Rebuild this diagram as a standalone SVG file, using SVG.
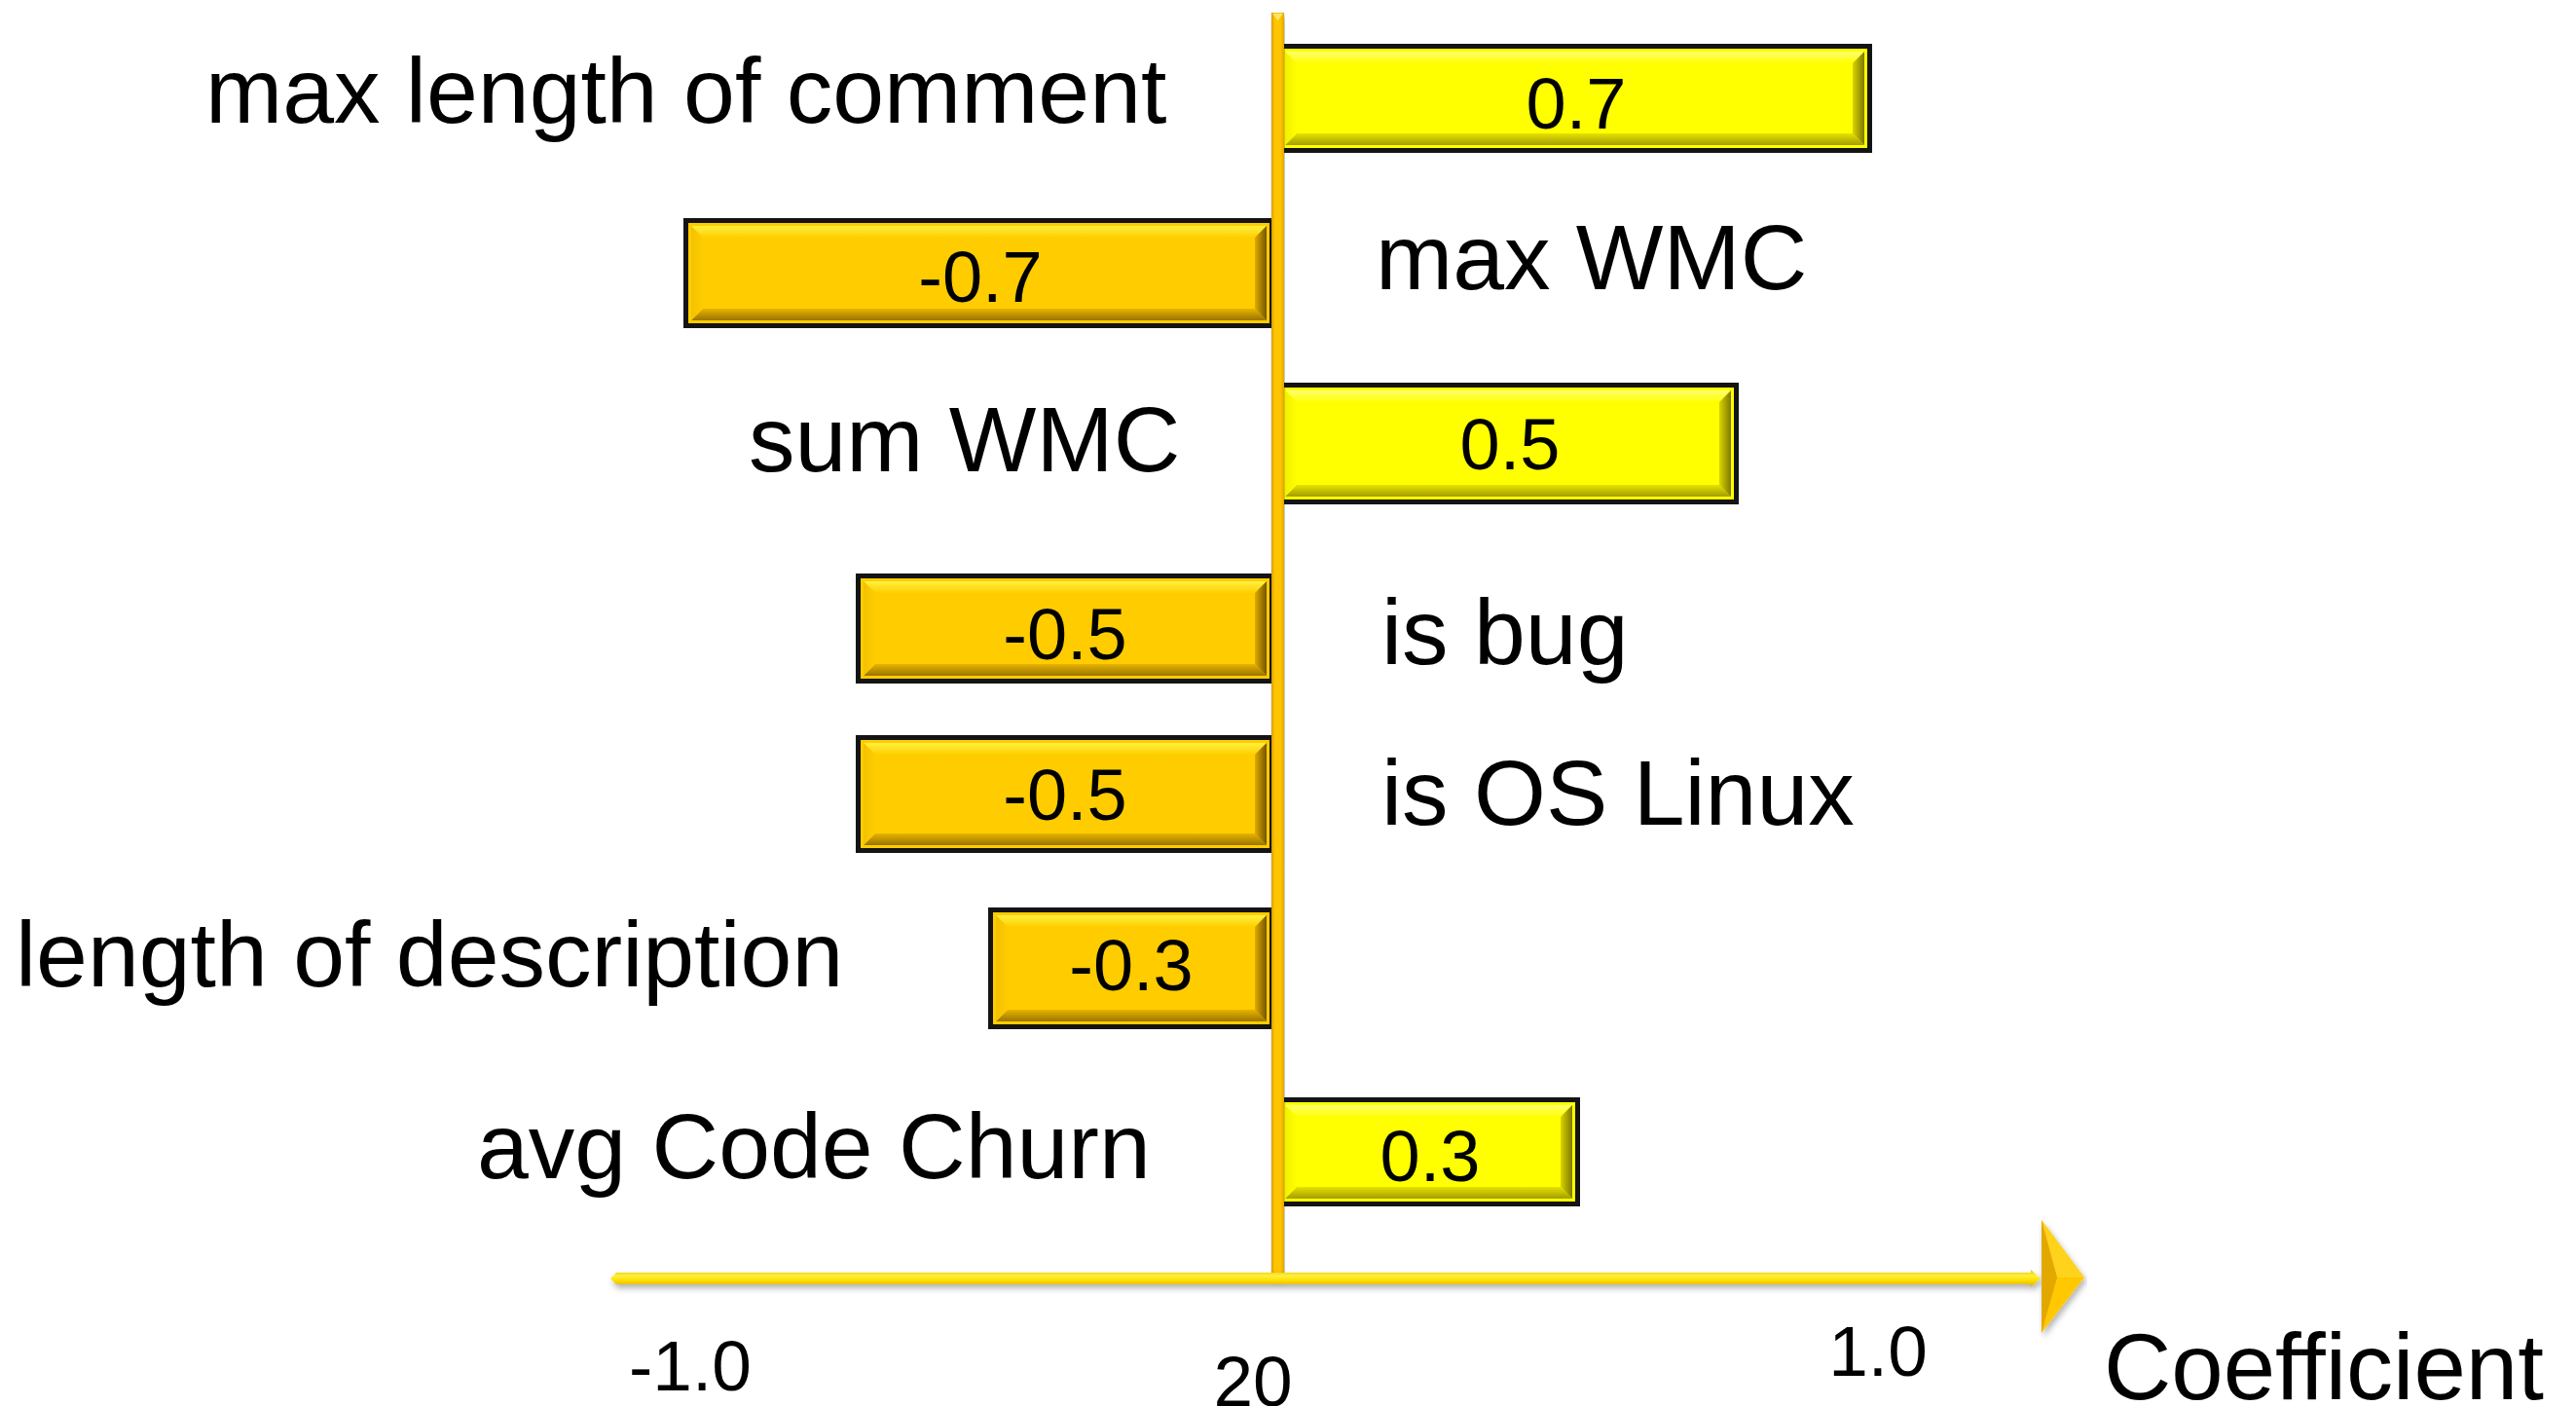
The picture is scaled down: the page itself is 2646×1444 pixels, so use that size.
<svg xmlns="http://www.w3.org/2000/svg" width="2646" height="1444" viewBox="0 0 2646 1444">
  <defs>
    <style>
      text { font-family: "Liberation Sans", Arial, sans-serif; fill: #000; }
      .label { font-size: 95px; }
      .val { font-size: 74px; text-anchor: middle; }
      .tick { font-size: 73px; }
      .edge { fill: #141414; }
      .neg .ring { fill: #FFCC00; }
      .pos .ring { fill: #FFFF00; }
      .neg .bt { fill: url(#oTop); }
      .neg .bb { fill: url(#oBot); }
      .neg .bl { fill: url(#oLeft); }
      .neg .br { fill: url(#oRight); }
      .pos .bt { fill: url(#yTop); }
      .pos .bb { fill: url(#yBot); }
      .pos .bl { fill: url(#yLeft); }
      .pos .br { fill: url(#yRight); }
    </style>
    <!-- bevel shading, gold bars -->
    <linearGradient id="oTop" x1="0" y1="0" x2="0" y2="1">
      <stop offset="0" stop-color="#FFF040"/>
      <stop offset="1" stop-color="#FFCF00"/>
    </linearGradient>
    <linearGradient id="oBot" x1="0" y1="0" x2="0" y2="1">
      <stop offset="0" stop-color="#E8B400"/>
      <stop offset="1" stop-color="#9A7400"/>
    </linearGradient>
    <linearGradient id="oLeft" x1="0" y1="0" x2="1" y2="0">
      <stop offset="0" stop-color="#F2C200"/>
      <stop offset="1" stop-color="#FFCC00"/>
    </linearGradient>
    <linearGradient id="oRight" x1="0" y1="0" x2="1" y2="0">
      <stop offset="0" stop-color="#E0AA00"/>
      <stop offset="1" stop-color="#735600"/>
    </linearGradient>
    <!-- bevel shading, yellow bars -->
    <linearGradient id="yTop" x1="0" y1="0" x2="0" y2="1">
      <stop offset="0" stop-color="#FFFF70"/>
      <stop offset="1" stop-color="#FFFF00"/>
    </linearGradient>
    <linearGradient id="yBot" x1="0" y1="0" x2="0" y2="1">
      <stop offset="0" stop-color="#E6E200"/>
      <stop offset="1" stop-color="#A39C00"/>
    </linearGradient>
    <linearGradient id="yLeft" x1="0" y1="0" x2="1" y2="0">
      <stop offset="0" stop-color="#F2F000"/>
      <stop offset="1" stop-color="#FFFF00"/>
    </linearGradient>
    <linearGradient id="yRight" x1="0" y1="0" x2="1" y2="0">
      <stop offset="0" stop-color="#DAD400"/>
      <stop offset="1" stop-color="#7E7800"/>
    </linearGradient>
    <!-- axis shading -->
    <linearGradient id="vAxis" x1="0" y1="0" x2="1" y2="0">
      <stop offset="0" stop-color="#D49C00"/>
      <stop offset="0.25" stop-color="#FFC400"/>
      <stop offset="0.7" stop-color="#FFC600"/>
      <stop offset="1" stop-color="#E2A600"/>
    </linearGradient>
    <linearGradient id="hAxis" x1="0" y1="0" x2="0" y2="1">
      <stop offset="0" stop-color="#F0BE00"/>
      <stop offset="0.35" stop-color="#FFF040"/>
      <stop offset="0.6" stop-color="#FFE000"/>
      <stop offset="1" stop-color="#DDAA00"/>
    </linearGradient>
    <filter id="shadow" x="-5%" y="-50%" width="110%" height="200%">
      <feDropShadow dx="2" dy="4" stdDeviation="3" flood-color="#000" flood-opacity="0.3"/>
    </filter>
  </defs>

  <rect width="2646" height="1444" fill="#FFFFFF"/>

  <!-- bars with their feature labels -->
  <g id="node-max-length-of-comment" class="bar pos">
    <rect class="edge" x="1312" y="45" width="611" height="112"/>
    <rect class="ring" x="1317" y="50" width="601" height="102"/>
    <polygon class="bt" points="1320,53 1915,53 1903,65 1332,65"/>
    <polygon class="bb" points="1320,149 1915,149 1903,137 1332,137"/>
    <polygon class="bl" points="1320,53 1332,65 1332,137 1320,149"/>
    <polygon class="br" points="1915,53 1903,65 1903,137 1915,149"/>
    <text class="val" x="1619" y="132">0.7</text>
    <text class="label" x="211" y="126">max length of comment</text>
  </g>

  <g id="node-max-wmc" class="bar neg">
    <rect class="edge" x="702" y="224" width="607" height="113"/>
    <rect class="ring" x="707" y="229" width="597" height="103"/>
    <polygon class="bt" points="710,232 1301,232 1289,244 722,244"/>
    <polygon class="bb" points="710,329 1301,329 1289,317 722,317"/>
    <polygon class="bl" points="710,232 722,244 722,317 710,329"/>
    <polygon class="br" points="1301,232 1289,244 1289,317 1301,329"/>
    <text class="val" x="1007" y="310">-0.7</text>
    <text class="label" x="1413" y="297">max WMC</text>
  </g>

  <g id="node-sum-wmc" class="bar pos">
    <rect class="edge" x="1312" y="393" width="474" height="125"/>
    <rect class="ring" x="1317" y="398" width="464" height="115"/>
    <polygon class="bt" points="1320,401 1778,401 1766,413 1332,413"/>
    <polygon class="bb" points="1320,510 1778,510 1766,498 1332,498"/>
    <polygon class="bl" points="1320,401 1332,413 1332,498 1320,510"/>
    <polygon class="br" points="1778,401 1766,413 1766,498 1778,510"/>
    <text class="val" x="1551" y="482">0.5</text>
    <text class="label" x="769" y="484">sum WMC</text>
  </g>

  <g id="node-is-bug" class="bar neg">
    <rect class="edge" x="879" y="589" width="430" height="113"/>
    <rect class="ring" x="884" y="594" width="420" height="103"/>
    <polygon class="bt" points="887,597 1301,597 1289,609 899,609"/>
    <polygon class="bb" points="887,694 1301,694 1289,682 899,682"/>
    <polygon class="bl" points="887,597 899,609 899,682 887,694"/>
    <polygon class="br" points="1301,597 1289,609 1289,682 1301,694"/>
    <text class="val" x="1094" y="677">-0.5</text>
    <text class="label" x="1419" y="682">is bug</text>
  </g>

  <g id="node-is-os-linux" class="bar neg">
    <rect class="edge" x="879" y="755" width="430" height="121"/>
    <rect class="ring" x="884" y="760" width="420" height="111"/>
    <polygon class="bt" points="887,763 1301,763 1289,775 899,775"/>
    <polygon class="bb" points="887,868 1301,868 1289,856 899,856"/>
    <polygon class="bl" points="887,763 899,775 899,856 887,868"/>
    <polygon class="br" points="1301,763 1289,775 1289,856 1301,868"/>
    <text class="val" x="1094" y="842">-0.5</text>
    <text class="label" x="1419" y="847">is OS Linux</text>
  </g>

  <g id="node-length-of-description" class="bar neg">
    <rect class="edge" x="1015" y="932" width="294" height="125"/>
    <rect class="ring" x="1020" y="937" width="284" height="115"/>
    <polygon class="bt" points="1023,940 1301,940 1289,952 1035,952"/>
    <polygon class="bb" points="1023,1049 1301,1049 1289,1037 1035,1037"/>
    <polygon class="bl" points="1023,940 1035,952 1035,1037 1023,1049"/>
    <polygon class="br" points="1301,940 1289,952 1289,1037 1301,1049"/>
    <text class="val" x="1162" y="1017">-0.3</text>
    <text class="label" x="16" y="1013">length of description</text>
  </g>

  <g id="node-avg-code-churn" class="bar pos">
    <rect class="edge" x="1312" y="1127" width="311" height="112"/>
    <rect class="ring" x="1317" y="1132" width="301" height="102"/>
    <polygon class="bt" points="1320,1135 1615,1135 1603,1147 1332,1147"/>
    <polygon class="bb" points="1320,1231 1615,1231 1603,1219 1332,1219"/>
    <polygon class="bl" points="1320,1135 1332,1147 1332,1219 1320,1231"/>
    <polygon class="br" points="1615,1135 1603,1147 1603,1219 1615,1231"/>
    <text class="val" x="1469" y="1213">0.3</text>
    <text class="label" x="490" y="1210">avg Code Churn</text>
  </g>

  <!-- axes -->
  <g id="connectors">
    <g filter="url(#shadow)">
      <rect x="1306" y="13" width="13" height="1298" fill="url(#vAxis)"/>
      <polygon points="1307,14 1318,14 1312.5,21" fill="#FFE36A"/>
    </g>
    <polygon filter="url(#shadow)" fill="url(#hAxis)"
             points="627,1313 633,1307 2086,1307 2086,1304 2096,1313 2086,1322 2086,1319 633,1319"/>
    <g id="axis-arrow" filter="url(#shadow)">
      <polygon points="2097,1253 2141,1312 2097,1369" fill="#FFC800"/>
      <polygon points="2112,1312 2097,1253 2141,1312" fill="#FFD21E"/>
      <polygon points="2097,1253 2113,1312 2097,1369" fill="#E3A800"/>
    </g>
  </g>

  <!-- scale and axis title -->
  <g id="axis-labels">
    <text class="tick" x="646" y="1428">-1.0</text>
    <text class="tick" x="1287" y="1444" text-anchor="middle">20</text>
    <text class="tick" x="1929" y="1413" text-anchor="middle">1.0</text>
    <text x="2161" y="1437" font-size="96">Coefficient</text>
  </g>
</svg>
